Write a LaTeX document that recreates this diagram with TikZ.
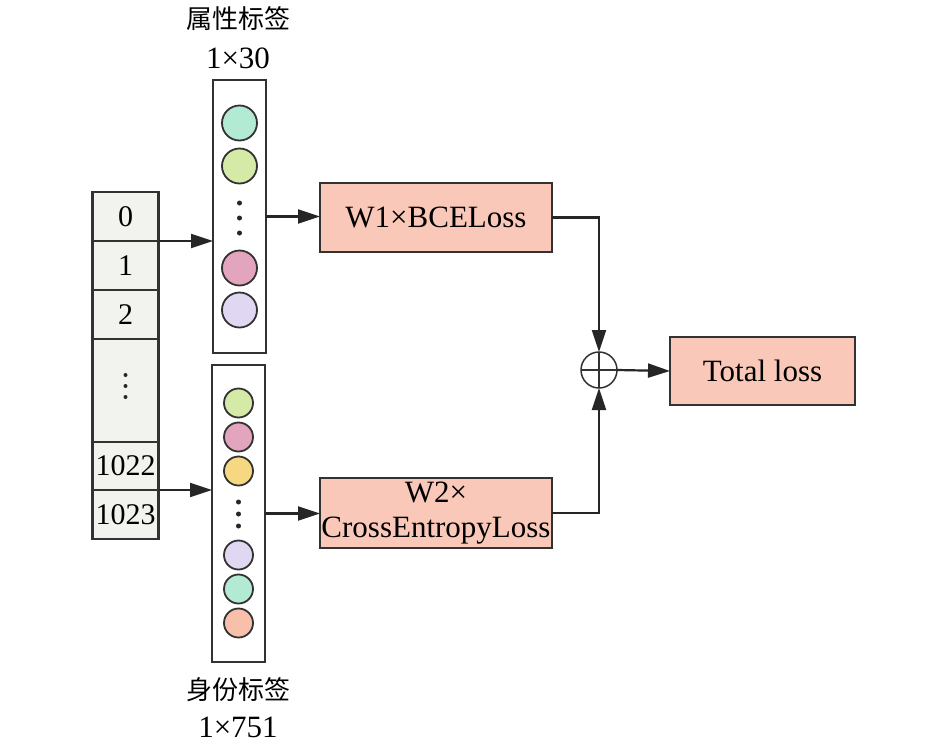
\documentclass[tikz,border=0pt]{standalone}
\usepackage{fontspec}
\setmainfont{Liberation Serif}
\newfontfamily\cjk{Noto Sans CJK SC}
\usetikzlibrary{arrows.meta,calc}
\definecolor{boxfill}{RGB}{249,200,184}
\definecolor{colfill}{RGB}{242,242,238}
\definecolor{edge}{RGB}{50,50,50}
\definecolor{cteal}{RGB}{178,234,212}
\definecolor{cgreen}{RGB}{212,234,166}
\definecolor{cpink}{RGB}{227,164,190}
\definecolor{clav}{RGB}{224,216,242}
\definecolor{cyellow}{RGB}{247,216,130}
\definecolor{csalmon}{RGB}{248,192,170}
\tikzset{
  txt/.style={font=\fontsize{31}{35}\selectfont},
  cntxt/.style={font=\cjk\fontsize{26}{30}\selectfont},
  cell/.style={draw=edge,line width=2.2pt,fill=colfill,minimum width=66pt,inner sep=0pt,outer sep=0pt,font=\fontsize{30}{34}\selectfont},
  layer/.style={draw=edge,line width=2.2pt,fill=white,minimum width=53pt,inner sep=0pt,outer sep=0pt},
  lossbox/.style={draw=edge,line width=2.2pt,fill=boxfill,inner sep=0pt,outer sep=0pt,align=center,txt},
  ball/.style={circle,draw=edge,line width=1.8pt,inner sep=0pt},
  conn/.style={draw=black!85,line width=2.2pt,-{Triangle[length=22pt,width=14pt]}},
  dotmark/.style={circle,fill=black!85,inner sep=0pt,minimum size=5pt},
}
\begin{document}
\begin{tikzpicture}[x=1pt,y=-1pt]
\useasboundingbox (0,0) rectangle (945,750);
% left column
\node[cell,minimum height=49pt] (c0) at (125.5,216.5) {0};
\node[cell,minimum height=49pt] (c1) at (125.5,265.5) {1};
\node[cell,minimum height=49pt] (c2) at (125.5,314.5) {2};
\node[cell,minimum height=103pt] (cd) at (125.5,390.5) {};
\node[cell,minimum height=48pt] (c1022) at (125.5,466) {1022};
\node[cell,minimum height=49pt] (c1023) at (125.5,514.5) {1023};
\foreach \yy [count=\i] in {375,386,397} \node[dotmark,minimum size=4pt] (cdot\i) at (125.5,\yy) {};
% upper layer
\node[layer,minimum height=273pt] (ub) at (239.5,216.5) {};
\node[ball,fill=cteal,minimum size=35pt] (u1) at (239.5,123) {};
\node[ball,fill=cgreen,minimum size=35pt] (u2) at (239.5,166) {};
\foreach \yy [count=\i] in {203,218,233} \node[dotmark] (udot\i) at (239.5,\yy) {};
\node[ball,fill=cpink,minimum size=35pt] (u3) at (239.5,268) {};
\node[ball,fill=clav,minimum size=35pt] (u4) at (239.5,310) {};
\node[cntxt] (lab1) at (238,19) {属性标签};
\node[txt] (lab1b) at (238,58) {1×30};
% lower layer
\node[layer,minimum height=297pt] (lb) at (238.5,513.5) {};
\node[ball,fill=cgreen,minimum size=29pt] (l1) at (238.5,403) {};
\node[ball,fill=cpink,minimum size=29pt] (l2) at (238.5,437) {};
\node[ball,fill=cyellow,minimum size=29pt] (l3) at (238.5,471) {};
\foreach \yy [count=\i] in {502,514,526} \node[dotmark] (ldot\i) at (238.5,\yy) {};
\node[ball,fill=clav,minimum size=29pt] (l4) at (238.5,555) {};
\node[ball,fill=cteal,minimum size=29pt] (l5) at (238.5,589) {};
\node[ball,fill=csalmon,minimum size=29pt] (l6) at (238.5,623) {};
\node[cntxt] (lab2) at (238,690) {身份标签};
\node[txt] (lab2b) at (238,727) {1×751};
% loss boxes
\node[lossbox,minimum width=232pt,minimum height=69pt] (w1) at (436,217.5) {W1×BCELoss};
\node[lossbox,minimum width=232pt,minimum height=70pt] (w2) at (436,513) {W2×\\[0pt]CrossEntropyLoss};
\node[circle,draw=edge,line width=1.5pt,minimum size=36pt,inner sep=0pt,outer sep=0pt,
  path picture={\draw[edge,line width=1.5pt] (path picture bounding box.north) -- (path picture bounding box.south)
    (path picture bounding box.west) -- (path picture bounding box.east);}] (plus) at (599,370) {};
\node[lossbox,minimum width=185pt,minimum height=68pt] (tl) at (762.5,371) {Total loss};
% connectors
\draw[conn] (c0.south east) -- (c0.south east -| ub.west);
\draw[conn] (c1022.south east) -- (c1022.south east -| lb.west);
\draw[conn] (ub.east) -- (ub.east -| w1.west);
\draw[conn] (lb.east) -- (lb.east -| w2.west);
\draw[conn] (w1.east) -| (plus.north);
\draw[conn] (w2.east) -| (plus.south);
\draw[conn] (plus.east) -- (tl.west);
\end{tikzpicture}
\end{document}
